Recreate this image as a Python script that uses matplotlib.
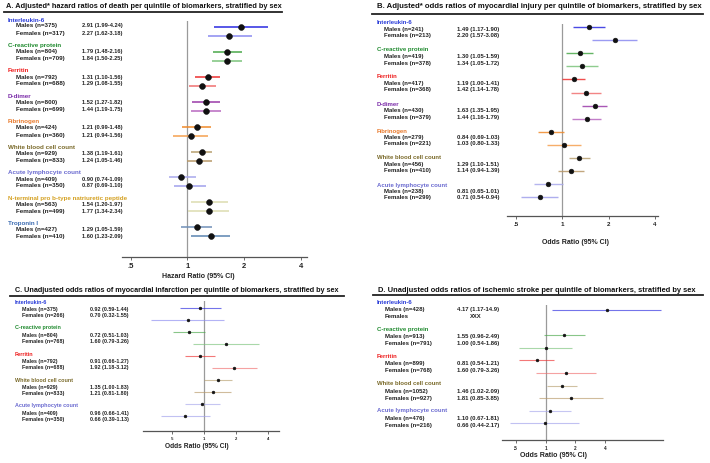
import numpy as np
import matplotlib
matplotlib.use("Agg")
import matplotlib.pyplot as plt
from matplotlib.lines import Line2D
from matplotlib.ticker import NullLocator

plt.rcParams['font.family'] = ['Liberation Sans', 'DejaVu Sans']
plt.rcParams['font.weight'] = 'bold'

W, H = 710, 464

# =========================================================
# DADOS
# =========================================================

# cores: (rotulo, linha homens, linha mulheres)
COLORS = {
    "Interleukin-6": ("#2a3cd8", "#2a2ae0", "#8a8af0"),
    "C-reactive protein": ("#1f8a2e", "#4aa84a", "#7cc47c"),
    "Ferritin": ("#ee1c1c", "#ee3030", "#f07070"),
    "D-dimer": ("#7a2aa8", "#9a3aa8", "#b868c0"),
    "Fibrinogen": ("#e8782a", "#f08a2a", "#f5a050"),
    "White blood cell count": ("#7a6a2a", "#b8a070", "#b89868"),
    "Acute lymphocyte count": ("#6a6ad0", "#a8a8ec", "#a0a0ec"),
    "N-terminal pro b-type natriuretic peptide": ("#d4a020", "#dcdcb0", "#dcdcb0"),
    "Troponin I": ("#3a6ab0", "#7090b8", "#5a84b0"),
}

# A - hazard ratios of death
a_names = ["Interleukin-6", "C-reactive protein", "Ferritin", "D-dimer", "Fibrinogen",
           "White blood cell count", "Acute lymphocyte count",
           "N-terminal pro b-type natriuretic peptide", "Troponin I"]
a_n_male = [375, 804, 792, 800, 424, 929, 409, 563, 427]
a_n_female = [317, 709, 688, 699, 360, 833, 350, 499, 410]
a_txt_male = ["2.91 (1.99-4.24)", "1.79 (1.48-2.16)", "1.31 (1.10-1.56)", "1.52 (1.27-1.82)",
              "1.21 (0.99-1.48)", "1.38 (1.19-1.61)", "0.90 (0.74-1.09)", "1.54 (1.20-1.97)",
              "1.29 (1.05-1.59)"]
a_txt_female = ["2.27 (1.62-3.18)", "1.84 (1.50-2.25)", "1.29 (1.08-1.55)", "1.44 (1.19-1.75)",
                "1.21 (0.94-1.56)", "1.24 (1.05-1.46)", "0.87 (0.69-1.10)", "1.77 (1.34-2.34)",
                "1.60 (1.23-2.09)"]
# estimativas lidas dos pontos desenhados
a_est_male = [1.92, 1.62, 1.29, 1.25, 1.13, 1.20, 0.93, 1.31, 1.13]
a_lo_male = [1.39, 1.37, 1.10, 1.06, 0.94, 1.04, 0.80, 1.04, 0.92]
a_hi_male = [2.67, 1.95, 1.49, 1.49, 1.34, 1.36, 1.11, 1.65, 1.35]
a_est_female = [1.67, 1.63, 1.20, 1.26, 1.05, 1.16, 1.02, 1.30, 1.34]
a_lo_female = [1.28, 1.36, 1.02, 1.05, 0.84, 1.00, 0.85, 1.01, 1.05]
a_hi_female = [2.20, 1.96, 1.42, 1.51, 1.29, 1.36, 1.25, 1.67, 1.69]

# B - odds ratios of myocardial injury
b_names = a_names[:7]
b_n_male = [241, 419, 417, 430, 279, 456, 238]
b_n_female = [213, 378, 368, 379, 221, 410, 299]
b_txt_male = ["1.49 (1.17-1.90)", "1.30 (1.05-1.59)", "1.19 (1.00-1.41)", "1.63 (1.35-1.95)",
              "0.84 (0.69-1.03)", "1.29 (1.10-1.51)", "0.81 (0.65-1.01)"]
b_txt_female = ["2.20 (1.57-3.08)", "1.34 (1.05-1.72)", "1.42 (1.14-1.78)", "1.44 (1.16-1.79)",
                "1.03 (0.80-1.33)", "1.14 (0.94-1.39)", "0.71 (0.54-0.94)"]
b_est_male = [1.49, 1.30, 1.19, 1.63, 0.84, 1.29, 0.81]
b_lo_male = [1.17, 1.05, 1.00, 1.35, 0.69, 1.10, 0.65]
b_hi_male = [1.90, 1.59, 1.41, 1.95, 1.03, 1.51, 1.01]
b_est_female = [2.20, 1.34, 1.42, 1.44, 1.03, 1.14, 0.71]
b_lo_female = [1.57, 1.05, 1.14, 1.16, 0.80, 0.94, 0.54]
b_hi_female = [3.08, 1.72, 1.78, 1.79, 1.33, 1.39, 0.94]

# C - odds ratios of myocardial infarction
c_names = ["Interleukin-6", "C-reactive protein", "Ferritin", "White blood cell count",
           "Acute lymphocyte count"]
c_n_male = [375, 804, 792, 929, 409]
c_n_female = [266, 768, 688, 833, 350]
c_txt_male = ["0.92 (0.59-1.44)", "0.72 (0.51-1.03)", "0.91 (0.66-1.27)", "1.35 (1.00-1.83)",
              "0.96 (0.66-1.41)"]
c_txt_female = ["0.70 (0.32-1.55)", "1.60 (0.79-3.26)", "1.92 (1.18-3.12)", "1.21 (0.81-1.80)",
                "0.66 (0.39-1.13)"]
c_est_male = [0.92, 0.72, 0.91, 1.35, 0.96]
c_lo_male = [0.59, 0.51, 0.66, 1.00, 0.66]
c_hi_male = [1.44, 1.03, 1.27, 1.83, 1.41]
c_est_female = [0.70, 1.60, 1.92, 1.21, 0.66]
c_lo_female = [0.32, 0.79, 1.18, 0.81, 0.39]
c_hi_female = [1.55, 3.26, 3.12, 1.80, 1.13]

# D - odds ratios of ischemic stroke
d_names = c_names
d_n_male = [428, 913, 899, 1052, 476]
d_n_female = [None, 791, 768, 927, 216]
d_txt_male = ["4.17 (1.17-14.9)", "1.55 (0.96-2.49)", "0.81 (0.54-1.21)", "1.46 (1.02-2.09)",
              "1.10 (0.67-1.81)"]
d_txt_female = ["XXX", "1.00 (0.54-1.86)", "1.60 (0.79-3.26)", "1.81 (0.85-3.85)",
                "0.66 (0.44-2.17)"]
d_est_male = [4.17, 1.55, 0.81, 1.46, 1.10]
d_lo_male = [1.17, 0.96, 0.54, 1.02, 0.67]
d_hi_male = [14.9, 2.49, 1.21, 2.09, 1.81]
d_est_female = [None, 1.00, 1.60, 1.81, 0.98]
d_lo_female = [None, 0.54, 0.79, 0.85, 0.44]
d_hi_female = [None, 1.86, 3.26, 3.85, 2.17]

TICKS = [0.5, 1, 2, 4]
TICK_LABELS = [".5", "1", "2", "4"]

# =========================================================
# FUNCOES
# =========================================================

fig = plt.figure(figsize=(W / 100, H / 100), dpi=100)


def fx(px):
    return px / W


def fy(py):
    return 1 - py / H


def ftext(x, y, s, **kw):
    fig.text(fx(x), fy(y), s, va="center", ha=kw.pop("ha", "left"), **kw)


def draw_panel(title, names, n_m, n_f, txt_m, txt_f, est_m, lo_m, hi_m, est_f, lo_f, hi_f, L):
    # titulo e sublinhado
    ftext(L["title_x"], L["title_y"], title, fontsize=L["title_fs"], fontweight="bold",
          color="#111111")
    fig.add_artist(Line2D([fx(L["ul"][0]), fx(L["ul"][1])], [fy(L["ul"][2])] * 2,
                          color="#222222", lw=1.3, transform=fig.transFigure))

    # texto da tabela
    for g, name in enumerate(names):
        hy = L["hy0"] + g * L["hstep"]
        ftext(L["hx"], hy, name, fontsize=L["fs"], color=COLORS[name][0], fontweight="bold")
        lab_m = f"Males (n={n_m[g]})"
        lab_f = "Females" if n_f[g] is None else f"Females (n={n_f[g]})"
        ftext(L["rx"], hy + L["dm"], lab_m, fontsize=L["fs"], color="#222222")
        ftext(L["rx"], hy + L["df"], lab_f, fontsize=L["fs"], color="#222222")
        ftext(L["vx"], hy + L["dm"], txt_m[g], fontsize=L["vfs"], color="#222222")
        vx_f = L["vx"] + 13 if txt_f[g] == "XXX" else L["vx"]
        ftext(vx_f, hy + L["df"], txt_f[g], fontsize=L["vfs"], color="#222222")

    # eixo do forest plot (y em pixels da figura)
    left, top, right, bottom = L["box"]
    ax = fig.add_axes([fx(left), fy(bottom), (right - left) / W, (bottom - top) / H])
    ax.set_xscale("log")
    ax.set_xlim(*L["xlim"])
    ax.set_ylim(bottom, top)
    ax.axvline(1, color="#9a9a9a", lw=0.9, zorder=1)

    for g, name in enumerate(names):
        ym = L["ry0"] + g * L["rstep"]
        yf = ym + L["rdf"]
        for y, e, lo, hi, col in [(ym, est_m[g], lo_m[g], hi_m[g], COLORS[name][1]),
                                  (yf, est_f[g], lo_f[g], hi_f[g], COLORS[name][2])]:
            if e is None:
                continue
            ax.plot([lo, hi], [y, y], color=col, lw=L["lw"], alpha=L["alpha"],
                    solid_capstyle="butt", zorder=2)
            ax.plot(e, y, "o", color="#111111", ms=L["ms"], mec="#111111", mew=0.4, zorder=3)

    ax.set_xticks(TICKS)
    ax.set_xticklabels(TICK_LABELS)
    ax.xaxis.set_minor_locator(NullLocator())
    ax.set_yticks([])
    for s in ["top", "left", "right"]:
        ax.spines[s].set_visible(False)
    ax.spines["bottom"].set_color("#555555")
    ax.spines["bottom"].set_linewidth(0.9)
    ax.tick_params(axis="x", length=2.5, width=0.6, color="#555555", pad=1.2,
                   labelsize=L["tfs"], labelcolor="#222222")
    ax.patch.set_alpha(0)

    ftext(L["xl"][0], L["xl"][1], L["xlabel"], fontsize=L["xfs"], fontweight="bold",
          ha="center", color="#222222")


# =========================================================
# PAINEIS
# =========================================================

draw_panel("A. Adjusted* hazard ratios of death per quintile of biomarkers, stratified by sex",
           a_names, a_n_male, a_n_female, a_txt_male, a_txt_female,
           a_est_male, a_lo_male, a_hi_male, a_est_female, a_lo_female, a_hi_female,
           dict(title_x=6, title_y=7, title_fs=5.35, ul=(4, 282, 13),
                hx=8, rx=16, vx=82, hy0=20, hstep=25.5, dm=6, df=13, fs=4.5, vfs=4.1,
                box=(122, 22, 307, 258.3), xlim=(0.449, 4.33),
                ry0=28, rstep=25, rdf=8.6, lw=1.1, alpha=1.0, ms=4.2, tfs=5.5,
                xlabel="Hazard Ratio (95% CI)", xl=(198.5, 277), xfs=5))

draw_panel("B. Adjusted* odds ratios of myocardial injury per quintile of biomarkers, stratified by sex",
           b_names, b_n_male, b_n_female, b_txt_male, b_txt_female,
           b_est_male, b_lo_male, b_hi_male, b_est_female, b_lo_female, b_hi_female,
           dict(title_x=377, title_y=7, title_fs=5.6, ul=(372, 703, 15),
                hx=377, rx=384, vx=457, hy0=23, hstep=27, dm=6.5, df=13, fs=4.3, vfs=4.2,
                box=(506.7, 25, 658, 216.7), xlim=(0.434, 4.20),
                ry0=28, rstep=26.2, rdf=13.2, lw=1.0, alpha=0.85, ms=3.4, tfs=4.5,
                xlabel="Odds Ratio (95% CI)", xl=(575, 243), xfs=5))

draw_panel("C. Unadjusted odds ratios of myocardial infarction per quintile of biomarkers, stratified by sex",
           c_names, c_n_male, c_n_female, c_txt_male, c_txt_female,
           c_est_male, c_lo_male, c_hi_male, c_est_female, c_lo_female, c_hi_female,
           dict(title_x=15, title_y=290, title_fs=5.2, ul=(10, 344, 297),
                hx=15, rx=22, vx=90, hy0=302, hstep=26, dm=7.5, df=14, fs=3.9, vfs=3.9,
                box=(142.7, 302, 279.3, 431.7), xlim=(0.265, 5.11),
                ry0=309, rstep=24, rdf=12, lw=0.8, alpha=0.65, ms=2.0, tfs=3,
                xlabel="Odds Ratio (95% CI)", xl=(197, 447), xfs=4.8))

draw_panel("D. Unadjusted odds ratios of ischemic stroke per quintile of biomarkers, stratified by sex",
           d_names, d_n_male, d_n_female, d_txt_male, d_txt_female,
           d_est_male, d_lo_male, d_hi_male, d_est_female, d_lo_female, d_hi_female,
           dict(title_x=378, title_y=290, title_fs=5.45, ul=(373, 703, 296),
                hx=377, rx=385, vx=457, hy0=302, hstep=27.2, dm=7.5, df=14.5, fs=4.3, vfs=4.2,
                box=(502, 306, 663, 440.7), xlim=(0.361, 15.45),
                ry0=311, rstep=25.2, rdf=12.6, lw=0.8, alpha=0.65, ms=2.0, tfs=3.3,
                xlabel="Odds Ratio (95% CI)", xl=(554, 456), xfs=5))

fig.savefig("out.png", dpi=100)
